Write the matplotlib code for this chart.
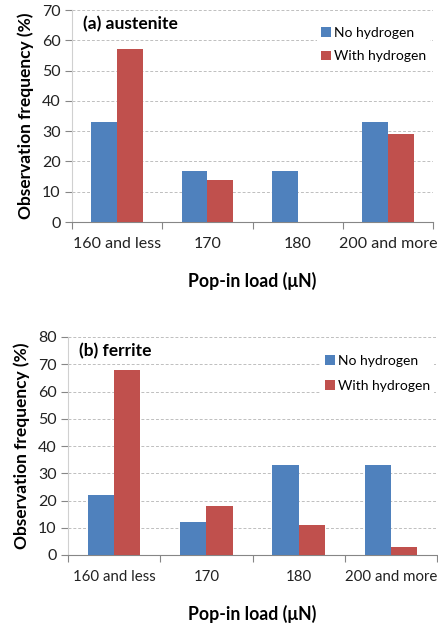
import matplotlib
matplotlib.use("Agg")
import matplotlib.pyplot as plt
import numpy as np
from matplotlib.patches import Patch

plt.rcParams['font.family'] = ['Lato', 'DejaVu Sans']

categories = ["160 and less", "170", "180", "200 and more"]
austenite_no_h = [33, 17, 17, 33]
austenite_with_h = [57, 14, 0, 29]
ferrite_no_h = [22, 12, 33, 33]
ferrite_with_h = [68, 18, 11, 3]

series_labels = ["No hydrogen", "With hydrogen"]
blue = "#4F81BD"
red = "#C0504D"
axis_grey = "#868686"

fig = plt.figure(figsize=(4.38, 6.25), dpi=100)

panels = [
    dict(rect=[0.164, 0.6448, 0.825, 0.339], no=austenite_no_h, wi=austenite_with_h,
         ymax=70, title="(a) austenite", legend_y=0.955, spacing=0.85, xfs=11.5),
    dict(rect=[0.155, 0.112, 0.843, 0.3488], no=ferrite_no_h, wi=ferrite_with_h,
         ymax=80, title="(b) ferrite", legend_y=0.95, spacing=0.95, xfs=10.8),
]

for p in panels:
    ax = fig.add_axes(p["rect"])
    x = np.arange(len(categories))
    w = 0.285
    ax.bar(x - w / 2, p["no"], width=w, color=blue, zorder=3)
    ax.bar(x + w / 2, p["wi"], width=w, color=red, zorder=3)
    ax.set_xlim(-0.5, len(categories) - 0.5)
    ax.set_ylim(0, p["ymax"])
    ax.set_yticks(np.arange(0, p["ymax"] + 1, 10))
    ax.yaxis.grid(True, linestyle=(0, (3, 2)), color="#BFBFBF", linewidth=0.7, zorder=0)
    ax.set_axisbelow(True)

    # category boundary ticks below the axis, labels centred between them
    ax.set_xticks(np.arange(-0.5, len(categories)), minor=False)
    ax.set_xticklabels([])
    ax.set_xticks(x, minor=True)
    ax.set_xticklabels(categories, minor=True, fontsize=p["xfs"], color="#222222")
    ax.tick_params(axis="x", which="major", length=5, color=axis_grey, direction="out")
    ax.tick_params(axis="x", which="minor", length=0, pad=11)
    ax.tick_params(axis="y", length=5, color=axis_grey, labelsize=11.5,
                   labelcolor="#222222", pad=3)

    for side in ("top", "right"):
        ax.spines[side].set_visible(False)
    ax.spines["left"].set_color("#D0D0D0")
    ax.spines["bottom"].set_color(axis_grey)
    ax.spines["left"].set_linewidth(0.8)
    ax.spines["bottom"].set_linewidth(0.8)

    ax.set_ylabel("Observation frequency (%)", fontsize=12.5, fontweight="bold", labelpad=6)
    ax.set_xlabel("Pop-in load (μN)", fontsize=12.7, fontweight="bold", labelpad=15)
    ax.text(0.03, 0.935, p["title"], transform=ax.transAxes, fontsize=12.5,
            fontweight="bold", va="center", ha="left", zorder=5)

    handles = [Patch(facecolor=blue), Patch(facecolor=red)]
    leg = ax.legend(handles, series_labels, loc="upper right",
                    bbox_to_anchor=(1.0, p["legend_y"]), fontsize=10,
                    frameon=True, facecolor="white", edgecolor="none",
                    framealpha=1, fancybox=False, handlelength=0.7,
                    handleheight=0.7, handletextpad=0.25, labelspacing=p["spacing"],
                    borderpad=0.3, borderaxespad=0.2)
    leg.set_zorder(4)

fig.savefig("out.png", dpi=100)
